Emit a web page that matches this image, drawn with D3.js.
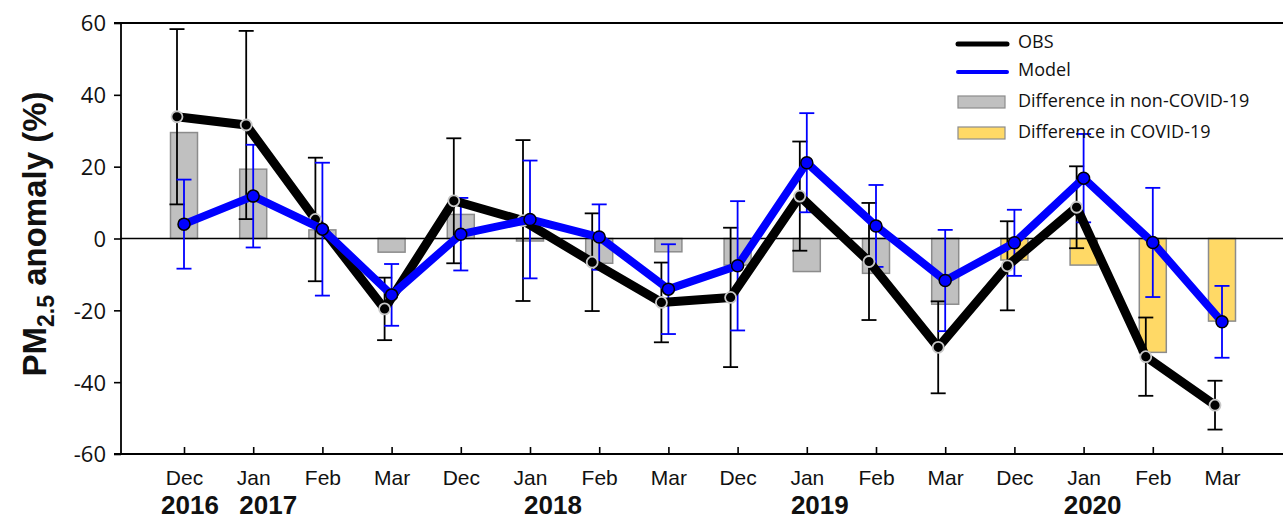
<!DOCTYPE html>
<html>
<head>
<meta charset="utf-8">
<script src="https://cdn.jsdelivr.net/npm/d3@7"></script>
<style>
  html, body { margin: 0; padding: 0; background: #fff; }
  svg { display: block; }
</style>
</head>
<body>
<svg id="chart" width="1283" height="519"></svg>
<script>
// months along the x axis, Dec 2016 .. Mar 2020 (winters only)
var months = ["Dec", "Jan", "Feb", "Mar", "Dec", "Jan", "Feb", "Mar",
              "Dec", "Jan", "Feb", "Mar", "Dec", "Jan", "Feb", "Mar"];
var years = ["2016", "2017", "2018", "2019", "2020"];
var yearAnchor = [0, 1, 5, 9, 13];   // month index each year label sits under

// PM2.5 anomaly (%)
var obs    = [33.9, 31.6, 5.3, -19.6, 10.5, 5.0, -6.6, -17.8, -16.4, 11.8, -6.4, -30.3, -7.6, 8.7, -32.9, -46.4];
var obsErr = [24.4, 26.2, 17.2, 8.7, 17.4, 22.4, 13.6, 11.1, 19.4, 15.2, 16.3, 12.8, 12.4, 11.4, 10.9, 6.8];
var model    = [4.0, 11.8, 2.6, -15.7, 1.2, 5.3, 0.4, -14.1, -7.6, 21.1, 3.5, -11.7, -1.2, 16.8, -1.1, -23.2];
var modelErr = [12.4, 14.3, 18.5, 8.6, 10.1, 16.4, 9.1, 12.5, 18.0, 13.8, 11.4, 14.1, 9.2, 12.3, 15.2, 10.0];
var diff  = [29.5, 19.3, 2.4, -3.8, 6.7, -0.7, -6.9, -3.7, -7.4, -9.2, -9.7, -18.3, -6.0, -7.4, -31.7, -23.0];
var covid = [0, 0, 0, 0, 0, 0, 0, 0, 0, 0, 0, 0, 1, 1, 1, 1];
var yTicks = [-60, -40, -20, 0, 20, 40, 60];

var svg = d3.select('#chart');
var W = 1283;
var plotLeft = 121, plotTop = 23, plotBottom = 454;

var x = d3.scalePoint().domain(d3.range(months.length)).range([184, 1222]);
var y = d3.scaleLinear().domain([-60, 60]).range([plotBottom, plotTop]);

var OBS_DX = -7;   // obs series drawn a little left of the tick
var cap = 7.5;

// bars
svg.append('g').selectAll('rect').data(diff).enter().append('rect')
    .attr('x', function(d, i) { return x(i) - 13.5; })
    .attr('width', 27)
    .attr('y', function(d) { return y(Math.max(0, d)); })
    .attr('height', function(d) { return Math.abs(y(d) - y(0)); })
    .attr('fill', function(d, i) { return covid[i] ? '#ffd966' : '#c0c0c0'; })
    .attr('stroke', '#8c8c8c')
    .attr('stroke-width', 1.5);

// zero line
svg.append('line').attr('x1', plotLeft).attr('x2', W)
    .attr('y1', y(0)).attr('y2', y(0))
    .attr('stroke', '#000').attr('stroke-width', 1.6);

// axes
var yAxis = d3.axisLeft(y).tickValues(yTicks).tickSize(7).tickPadding(8)
    .tickFormat(function(d) { return String(d); });
var gy = svg.append('g').attr('transform', 'translate(' + plotLeft + ',0)').call(yAxis);
gy.select('.domain').remove();
gy.selectAll('.tick line').attr('stroke-width', 1.6);
gy.selectAll('.tick text')
    .style('font-family', '"Open Sans", sans-serif')
    .style('font-size', '22px')
    .attr('fill', '#111')
    .attr('dy', '0.36em');
svg.append('line').attr('x1', plotLeft).attr('x2', plotLeft).attr('y1', plotTop - 0.8).attr('y2', plotBottom + 0.8)
    .attr('stroke', '#000').attr('stroke-width', 1.8);
svg.append('line').attr('x1', plotLeft - 7).attr('x2', W).attr('y1', plotTop).attr('y2', plotTop)
    .attr('stroke', '#000').attr('stroke-width', 1.8);
svg.append('line').attr('x1', plotLeft - 7).attr('x2', W).attr('y1', plotBottom).attr('y2', plotBottom)
    .attr('stroke', '#000').attr('stroke-width', 1.8);

var xAxis = d3.axisBottom(x).tickSize(-7).tickFormat(function(i) { return months[i]; });
var gx = svg.append('g').attr('transform', 'translate(0,' + plotBottom + ')').call(xAxis);
gx.select('.domain').remove();
gx.selectAll('.tick line').attr('stroke-width', 1.6);
gx.selectAll('.tick text')
    .style('font-family', '"Liberation Sans", Arial, sans-serif')
    .style('font-size', '21px')
    .attr('fill', '#111')
    .attr('y', 31).attr('dy', 0);

// year labels
var yearDx = [6, 15, 23, 13, 9];
svg.append('g').selectAll('text').data(years).enter().append('text')
    .attr('x', function(d, i) { return x(yearAnchor[i]) + yearDx[i]; })
    .attr('y', 514)
    .attr('text-anchor', 'middle')
    .style('font-family', '"Liberation Sans", Arial, sans-serif')
    .style('font-weight', 'bold')
    .style('font-size', '26px')
    .attr('fill', '#111')
    .text(function(d) { return d; });

// y title
var title = svg.append('text')
    .attr('transform', 'translate(46,' + 234 + ') rotate(-90)')
    .attr('text-anchor', 'middle')
    .style('font-family', '"Liberation Sans", Arial, sans-serif')
    .style('font-weight', 'bold')
    .style('font-size', '33px')
    .attr('fill', '#111');
title.append('tspan').text('PM');
title.append('tspan').attr('dy', 8).style('font-size', '23px').text('2.5');
title.append('tspan').attr('dy', -8).text(' anomaly (%)');

// error bars
function errorBars(vals, errs, dx, color) {
    var g = svg.append('g').attr('stroke', color).attr('stroke-width', 1.8).attr('fill', 'none');
    vals.forEach(function(v, i) {
        var cx = x(i) + dx, hi = y(v + errs[i]), lo = y(v - errs[i]);
        g.append('line').attr('x1', cx).attr('x2', cx).attr('y1', hi).attr('y2', lo);
        g.append('line').attr('x1', cx - cap).attr('x2', cx + cap).attr('y1', hi).attr('y2', hi);
        g.append('line').attr('x1', cx - cap).attr('x2', cx + cap).attr('y1', lo).attr('y2', lo);
    });
}
errorBars(obs, obsErr, OBS_DX, '#000');
errorBars(model, modelErr, 0, '#0000ff');

// lines
var obsLine = d3.line().x(function(d, i) { return x(i) + OBS_DX; }).y(function(d) { return y(d); });
var modelLine = d3.line().x(function(d, i) { return x(i); }).y(function(d) { return y(d); });

svg.append('path').datum(obs).attr('d', obsLine)
    .attr('fill', 'none').attr('stroke', '#000').attr('stroke-width', 9).attr('stroke-linejoin', 'round');
svg.append('g').selectAll('circle').data(obs).enter().append('circle')
    .attr('cx', function(d, i) { return x(i) + OBS_DX; })
    .attr('cy', function(d) { return y(d); })
    .attr('r', 5.5)
    .attr('fill', '#000').attr('stroke', '#c8c8c8').attr('stroke-width', 1.8);

svg.append('path').datum(model).attr('d', modelLine)
    .attr('fill', 'none').attr('stroke', '#0000ff').attr('stroke-width', 8).attr('stroke-linejoin', 'round');
svg.append('g').selectAll('circle').data(model).enter().append('circle')
    .attr('cx', function(d, i) { return x(i); })
    .attr('cy', function(d) { return y(d); })
    .attr('r', 6)
    .attr('fill', '#0000ff').attr('stroke', '#000').attr('stroke-width', 1.5);

// legend
var legendItems = [
    { label: 'OBS', kind: 'line', color: '#000', width: 5, y: 42 },
    { label: 'Model', kind: 'line', color: '#0000ff', width: 4, y: 70 },
    { label: 'Difference in non-COVID-19', kind: 'rect', color: '#c0c0c0', y: 101 },
    { label: 'Difference in COVID-19', kind: 'rect', color: '#ffd966', y: 132 }
];
var lg = svg.append('g');
legendItems.forEach(function(it) {
    if (it.kind === 'line') {
        lg.append('line').attr('x1', 958).attr('x2', 1007).attr('y1', it.y + 2).attr('y2', it.y + 2)
            .attr('stroke', it.color).attr('stroke-width', it.width).attr('stroke-linecap', 'round');
    } else {
        lg.append('rect').attr('x', 958).attr('y', it.y - 5).attr('width', 47).attr('height', 12)
            .attr('fill', it.color).attr('stroke', '#8c8c8c').attr('stroke-width', 1.2);
    }
    lg.append('text').attr('x', 1018).attr('y', it.y).attr('dy', '0.35em')
        .style('font-family', '"Open Sans", sans-serif')
        .style('font-size', '18px')
        .attr('fill', '#111')
        .text(it.label);
});
</script>
</body>
</html>
